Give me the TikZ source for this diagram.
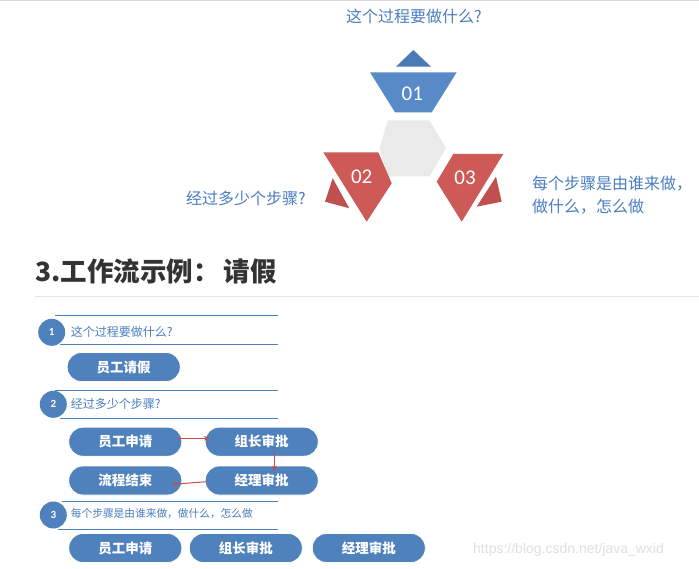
\documentclass[tikz,border=0pt]{standalone}
\usepackage{fontspec}
\newfontfamily\cjk{Noto Sans CJK SC}
\newfontfamily\numfont{Carlito}
\newfontfamily\wmfont{Liberation Sans}
\usetikzlibrary{arrows.meta}
\definecolor{pillblue}{RGB}{79,129,189}
\definecolor{textblue}{RGB}{74,126,193}
\definecolor{trapblue}{RGB}{88,138,200}
\definecolor{triblue}{RGB}{74,122,181}
\definecolor{redshape}{RGB}{205,90,87}
\definecolor{reddark}{RGB}{192,80,77}
\definecolor{hexgray}{RGB}{234,234,234}
\definecolor{titlegray}{RGB}{51,51,51}
\tikzset{
  pill/.style={fill=pillblue, draw=white, line width=0.8pt, rounded corners=14pt,
    minimum width=113pt, minimum height=29pt, inner sep=0pt, text=white,
    font=\cjk\bfseries\fontsize{13.5}{15}\selectfont},
  numcirc/.style={circle, fill=pillblue, minimum size=27pt, inner sep=0pt, text=white,
    font=\numfont\bfseries\fontsize{11}{12}\selectfont},
  qtext/.style={text=textblue, inner sep=0pt, anchor=west},
  bigq/.style={text=textblue, inner sep=0pt, font=\cjk\fontsize{16}{20}\selectfont},
  secline/.style={draw=pillblue, line width=0.9pt},
  shapenum/.style={text=white, inner sep=0pt, font=\numfont\fontsize{21}{22}\selectfont},
  redarrow/.style={draw=reddark, line width=1pt, -{Stealth[length=6pt,width=4.5pt]}},
}
\begin{document}
\begin{tikzpicture}[x=1pt,y=-1pt]
\useasboundingbox (0,0) rectangle (699,569);
\fill[white] (0,0) rectangle (699,569);
% top rule
\draw[gray!30, line width=1pt] (0,1) -- (699,1);
% top diagram
\fill[hexgray] (379,148.3) -- (387.3,120) -- (430,120) -- (446.7,148.3) -- (430,177) -- (387.3,177) -- cycle;
\draw[white, line width=1pt] (379,148.3) -- (387.3,120) -- (430,120) -- (446.7,148.3) -- (430,177) -- (387.3,177) -- cycle;
\fill[triblue] (413.3,50) -- (431,66.7) -- (396,66.7) -- cycle;
\fill[trapblue] (370,72.3) -- (456.7,72.3) -- (431.7,112.3) -- (395,112.3) -- cycle;
\node[shapenum] (n01) at (412.3,93.3) {01};
\fill[redshape] (323.3,152.3) -- (378.3,152.3) -- (391.7,183.3) -- (366.7,221.7) -- cycle;
\fill[reddark] (332.7,178.3) -- (349.3,208.3) -- (325,201.7) -- cycle;
\node[shapenum] (n02) at (361.7,176.7) {02};
\fill[redshape] (453.3,154) -- (503.3,154) -- (461.7,221.7) -- (436.7,181.7) -- cycle;
\fill[reddark] (496,176.7) -- (501.7,201.7) -- (476.7,206.7) -- cycle;
\node[shapenum] (n03) at (465,177.3) {03};
\node[bigq] (q1) at (414,16.5) {这个过程要做什么?};
\node[bigq, anchor=west] (q2) at (186,198) {经过多少个步骤?};
\node[bigq, anchor=north west, align=left, font=\cjk\fontsize{16}{23}\selectfont] (q3) at (532,176) {每个步骤是由谁来做，\\做什么，怎么做};
% title
\node[anchor=west, inner sep=0pt, text=titlegray, font=\cjk\bfseries\fontsize{26.5}{30}\selectfont] (title) at (35,271.7) {3.工作流示例：\hspace{4pt}请假};
\draw[gray!20, line width=1pt] (35,296.7) -- (699,296.7);
% section 1
\draw[secline] (55,315.7) -- (278.3,315.7);
\draw[secline] (60,344) -- (278.3,344);
\node[numcirc] (c1) at (51.7,332.3) {1};
\node[qtext, font=\cjk\fontsize{12}{14}\selectfont] (t1) at (70.7,331.5) {这个过程要做什么?};
\node[pill] (p1) at (123.7,367) {员工请假};
% section 2
\draw[secline] (55,390) -- (278.3,390);
\draw[secline] (60,418.3) -- (278.3,418.3);
\node[numcirc] (c2) at (53.3,404.3) {2};
\node[qtext, font=\cjk\fontsize{12}{14}\selectfont] (t2) at (70.7,403.5) {经过多少个步骤?};
\node[pill] (a1) at (125.3,441.7) {员工申请};
\node[pill] (a2) at (261.7,441.7) {组长审批};
\node[pill] (a4) at (125.3,480.5) {流程结束};
\node[pill] (a3) at (261.7,480.5) {经理审批};
\coordinate (a1e) at (176.7,438.3);
\coordinate (a2w) at (210,438.3);
\coordinate (a2s) at (274.3,451.7);
\coordinate (a3n) at (274.3,471.7);
\coordinate (a3w) at (206.7,481.7);
\coordinate (a4e) at (171.7,484.3);
\draw[redarrow] (a1e) -- (a2w);
\draw[redarrow] (a2s) -- (a3n);
\draw[redarrow] (a3w) -- (a4e);
% section 3
\draw[secline] (61.7,501.7) -- (278.3,501.7);
\draw[secline] (58,529.3) -- (278.3,529.3);
\node[numcirc] (c3) at (53.3,515) {3};
\node[qtext, font=\cjk\fontsize{10.7}{13}\selectfont] (t3) at (70.7,514) {每个步骤是由谁来做，做什么，怎么做};
\node[pill] (b1) at (125.3,548) {员工申请};
\node[pill] (b2) at (245.8,548) {组长审批};
\node[pill] (b3) at (368.8,548) {经理审批};
% watermark
\node[anchor=west, inner sep=0pt, text=black!12, font=\wmfont\fontsize{14}{16}\selectfont] (wm) at (473,550) {https://blog.csdn.net/java\_wxid};
\end{tikzpicture}
\end{document}
